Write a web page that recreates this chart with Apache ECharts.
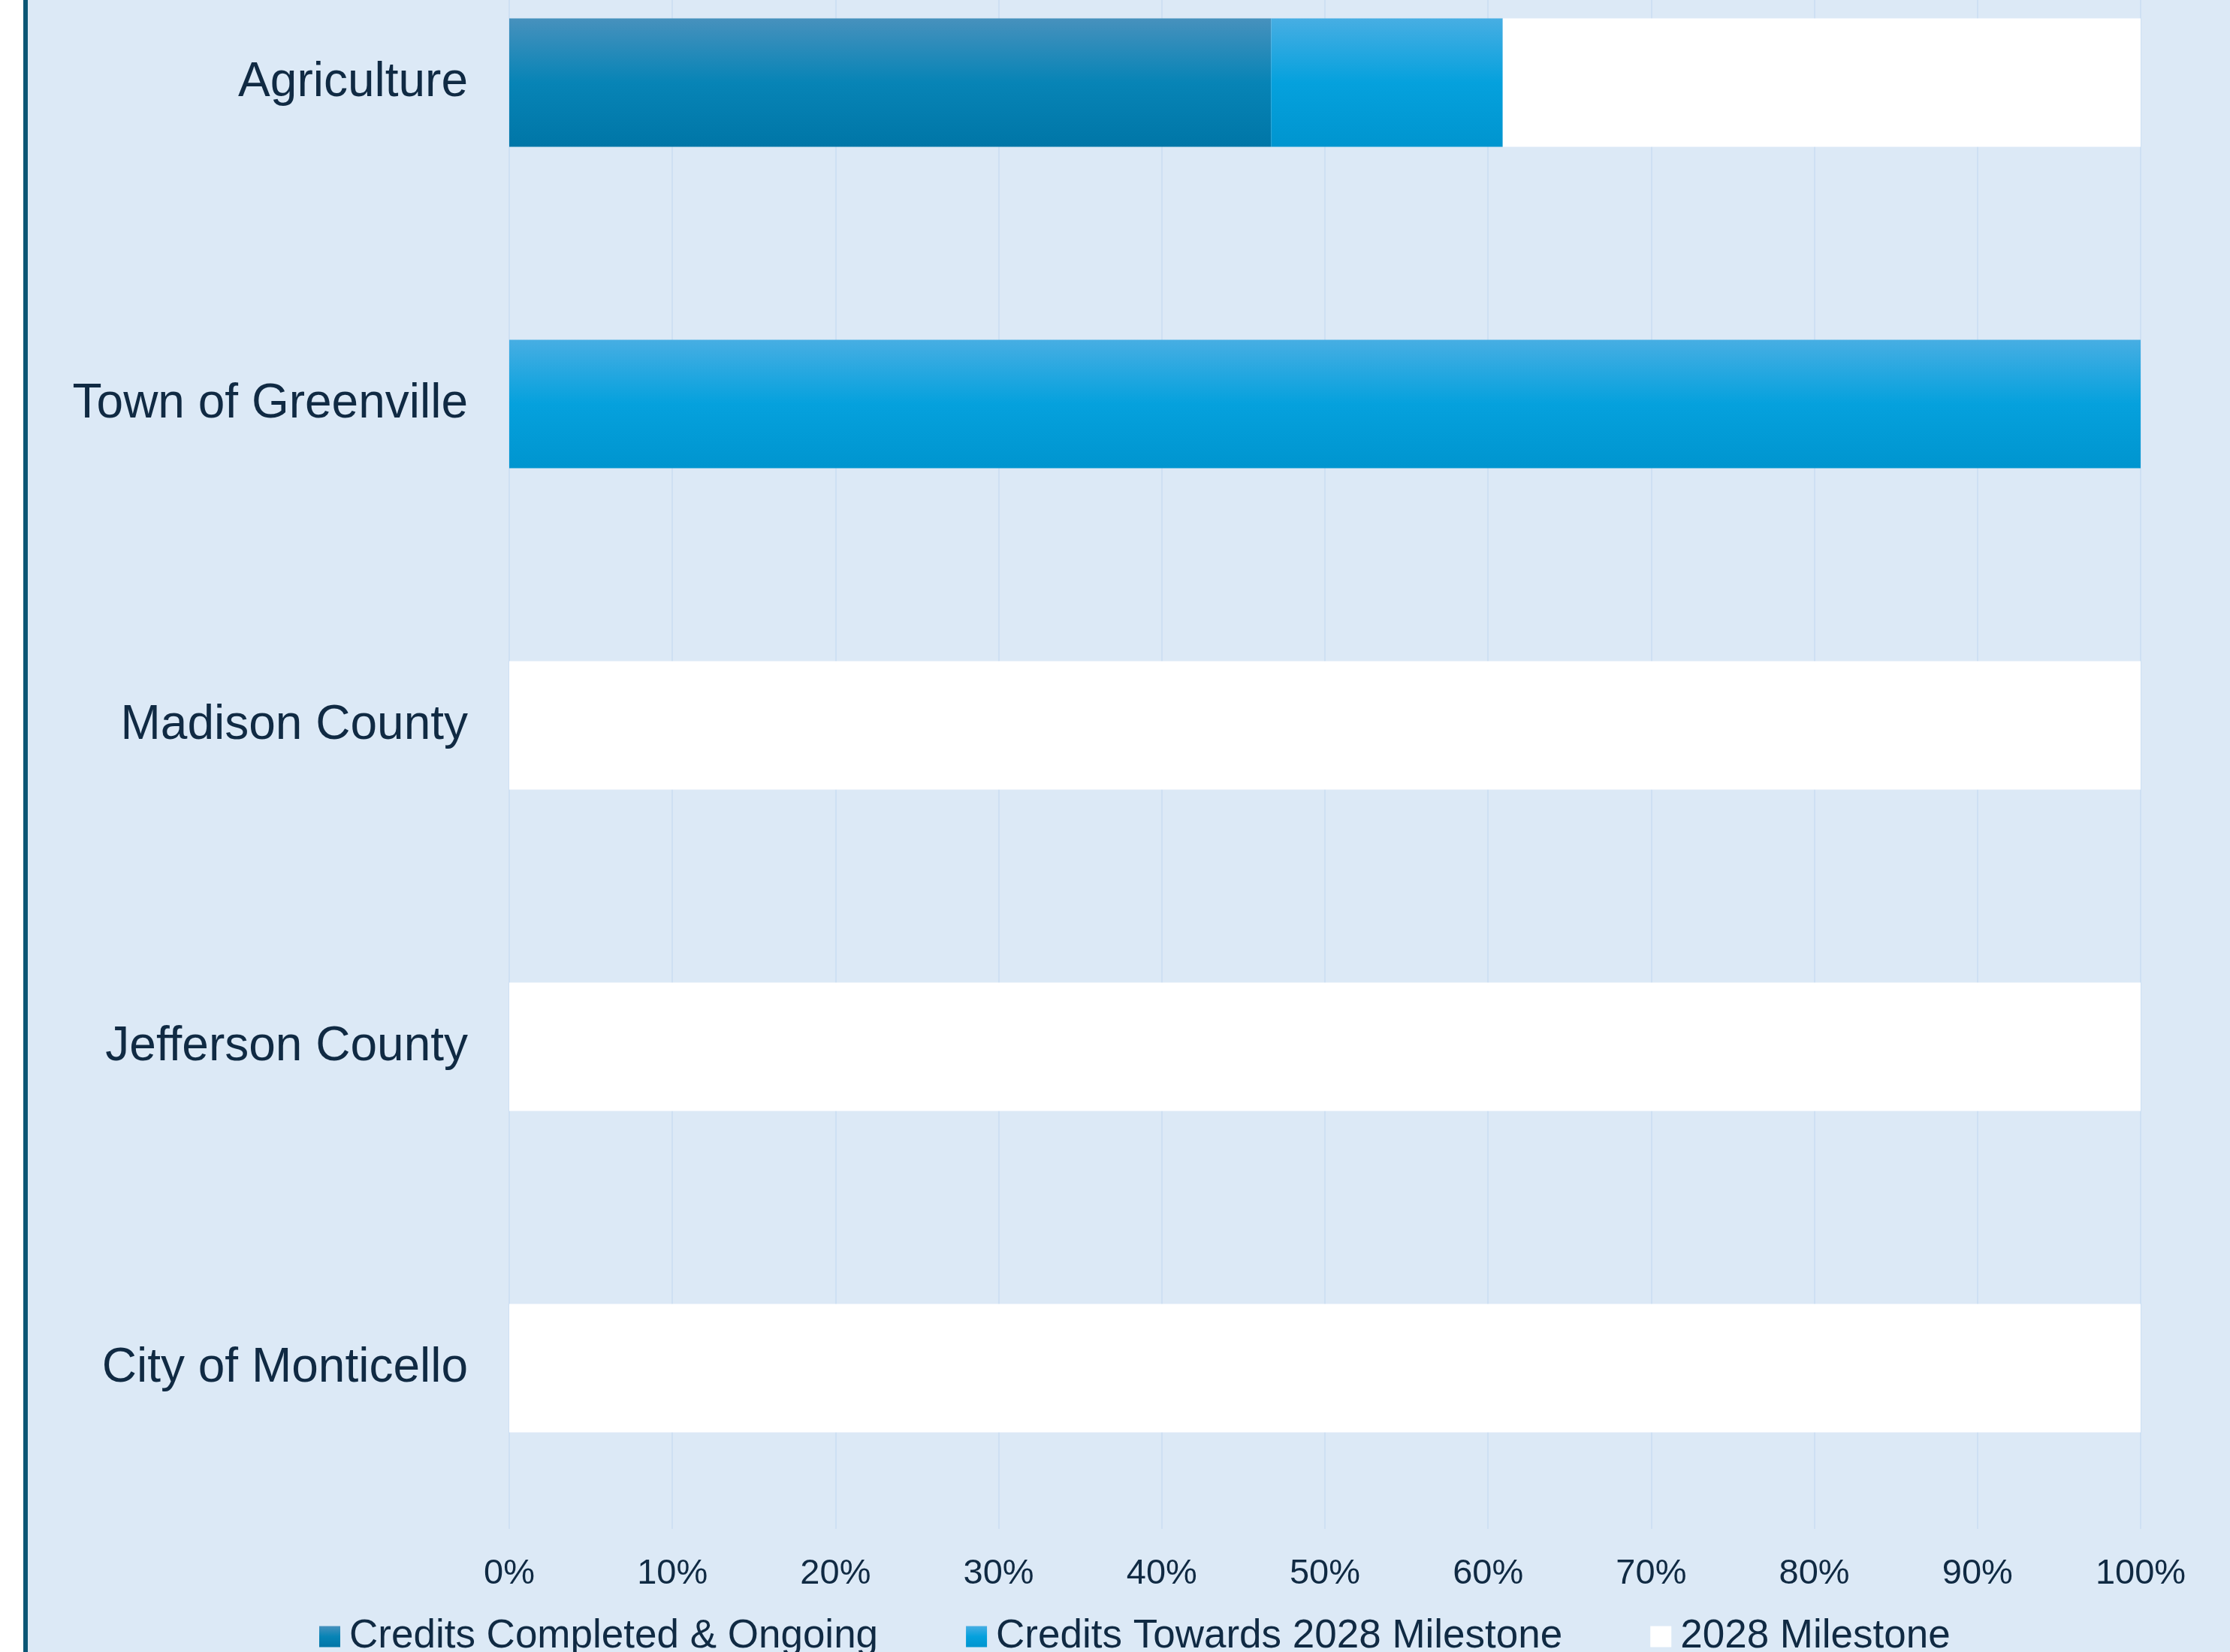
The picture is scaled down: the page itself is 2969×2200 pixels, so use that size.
<!DOCTYPE html>
<html>
<head>
<meta charset="utf-8">
<script src="https://cdn.jsdelivr.net/npm/echarts@6/dist/echarts.min.js"></script>
<style>
html,body{margin:0;padding:0;background:#ffffff;overflow:hidden;width:2969px;height:2200px;}
#chart{position:absolute;left:0;top:-104px;width:2969px;height:2304px;}
</style>
</head>
<body>
<div id="chart"></div>
<script>
const categories = ['Agriculture', 'Town of Greenville', 'Madison County', 'Jefferson County', 'City of Monticello'];
const seriesNames = ['Credits Completed & Ongoing', 'Credits Towards 2028 Milestone', '2028 Milestone'];
const completedOngoing = [46.7, 0, 0, 0, 0];
const towardsMilestone = [14.2, 100, 0, 0, 0];
const milestoneRemaining = [39.1, 0, 100, 100, 100];
const tickValues = [0, 10, 20, 30, 40, 50, 60, 70, 80, 90, 100];

function grad(c0, c1, c2) {
  return new echarts.graphic.LinearGradient(0, 0, 0, 1, [
    {offset: 0, color: c0}, {offset: 0.5, color: c1}, {offset: 1, color: c2}
  ]);
}

const chart = echarts.init(document.getElementById('chart'), null, {renderer: 'canvas'});
const font = 'Liberation Sans, Arial, Helvetica, sans-serif';
const textColor = '#102a43';

chart.setOption({
  animation: false,
  backgroundColor: '#dce9f6',
  graphic: [
    {type: 'rect', left: 0, top: 0, shape: {width: 31, height: 2304}, style: {fill: '#ffffff'}, z: 100},
    {type: 'rect', left: 31, top: 0, shape: {width: 6, height: 2304}, style: {fill: '#0b5675'}, z: 100}
  ],
  grid: {left: 678, right: 119, top: 0, bottom: 164, containLabel: false},
  legend: {
    data: seriesNames,
    left: 420,
    top: 2252,
    icon: 'rect',
    itemWidth: 28,
    itemHeight: 28,
    itemGap: 117,
    textStyle: {fontSize: 53, fontFamily: font, color: textColor, padding: [0, 0, 0, 7]}
  },
  xAxis: {
    type: 'value',
    min: 0,
    max: 100,
    interval: 10,
    axisLine: {show: false},
    axisTick: {show: false},
    splitLine: {show: true, lineStyle: {color: '#cee0f3', width: 2}},
    axisLabel: {
      fontSize: 47, fontFamily: font, color: textColor, margin: 37,
      formatter: function (v) { return tickValues.indexOf(v) >= 0 ? v + '%' : ''; }
    }
  },
  yAxis: {
    type: 'category',
    data: categories,
    inverse: true,
    axisLine: {show: false},
    axisTick: {show: false},
    axisLabel: {fontSize: 64, fontFamily: font, color: textColor, margin: 55, padding: [8, 0, 0, 0]}
  },
  series: [
    {
      name: seriesNames[0], type: 'bar', stack: 'total', barCategoryGap: '60%',
      data: completedOngoing,
      itemStyle: {color: grad('#4791bd', '#0784b6', '#0076a7')}
    },
    {
      name: seriesNames[1], type: 'bar', stack: 'total', barCategoryGap: '60%',
      data: towardsMilestone,
      itemStyle: {color: grad('#47aee3', '#05a1dd', '#0095cf')}
    },
    {
      name: seriesNames[2], type: 'bar', stack: 'total', barCategoryGap: '60%',
      data: milestoneRemaining,
      itemStyle: {color: '#ffffff'}
    }
  ]
});
</script>
</body>
</html>
